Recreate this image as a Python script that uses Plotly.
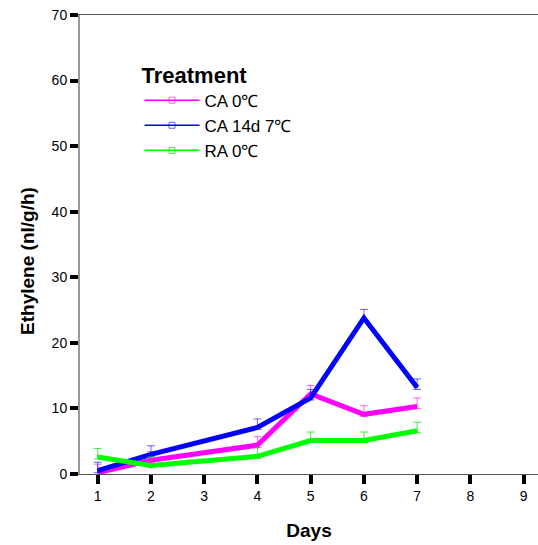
import plotly.graph_objects as go

days = [1, 2, 4, 5, 6, 7]
ca0 = [0.2, 2.1, 4.4, 12.2, 9.1, 10.3]
ca14 = [0.5, 3.0, 7.1, 11.6, 23.8, 13.2]
ra0 = [2.6, 1.3, 2.7, 5.1, 5.1, 6.6]
err_up = [1.3, 1.3, 1.3, 1.3, 1.3, 1.3]
err_dn = [0.3, 0.3, 0.3, 0.3, 0.3, 0.3]

names = ["CA 0℃", "CA 14d 7℃", "RA 0℃"]
colors = ["#FF00FF", "#0000FF", "#00FF00"]
ecolors = ["rgba(255,0,255,0.6)", "rgba(0,0,255,0.6)", "rgba(0,220,0,0.7)"]
series = [ca0, ca14, ra0]
xticks = [1, 2, 3, 4, 5, 6, 7, 8, 9]
yticks = [0, 10, 20, 30, 40, 50, 60, 70]

fig = go.Figure()
for i in [0, 1, 2]:
    fig.add_trace(go.Scatter(
        x=days, y=series[i], mode="lines", showlegend=False,
        line=dict(color=colors[i], width=5),
        error_y=dict(type="data", symmetric=False, array=err_up, arrayminus=err_dn,
                     color=ecolors[i], thickness=1, width=4),
    ))
# legend entries
for i in range(3):
    fig.add_trace(go.Scatter(
        x=[None], y=[None], mode="lines+markers", name=names[i],
        line=dict(color=colors[i], width=1.5),
        marker=dict(symbol="square-open", size=6, color=ecolors[i], line=dict(width=1)),
    ))

font = "Arial"
fig.update_layout(
    width=538, height=545,
    margin=dict(l=80, r=0, t=15, b=71),
    paper_bgcolor="white", plot_bgcolor="white",
    font=dict(family=font, color="black", size=14),
    showlegend=True,
    legend=dict(
        x=0.13, y=0.915, xanchor="left", yanchor="top",
        title=dict(text="<b>Treatment</b>", font=dict(size=22, family=font)),
        font=dict(size=17, family=font),
        itemwidth=55, tracegroupgap=0, bgcolor="rgba(0,0,0,0)",
    ),
    xaxis=dict(
        range=[0.667, 9.27], tickvals=xticks, ticktext=[str(t) for t in xticks],
        showgrid=False, zeroline=False,
        showline=True, linecolor="#555555", linewidth=1, mirror=True,
        ticks="outside", ticklen=9, tickwidth=4, tickcolor="black",
        tickfont=dict(size=14),
        title=dict(text="<b>Days</b>", font=dict(size=19), standoff=20),
    ),
    yaxis=dict(
        range=[0, 70], tickvals=yticks, ticktext=[str(t) for t in yticks],
        showgrid=False, zeroline=False,
        showline=True, linecolor="#999999", linewidth=2,
        ticks="outside", ticklen=8, tickwidth=4, tickcolor="black",
        tickfont=dict(size=14),
    ),
    annotations=[dict(
        text="<b>Ethylene (nl/g/h)</b>", textangle=-90, showarrow=False,
        xref="paper", yref="paper", x=-0.116, y=0.464,
        xanchor="center", yanchor="middle", font=dict(size=19),
    )],
)
fig.write_html("out.html")
